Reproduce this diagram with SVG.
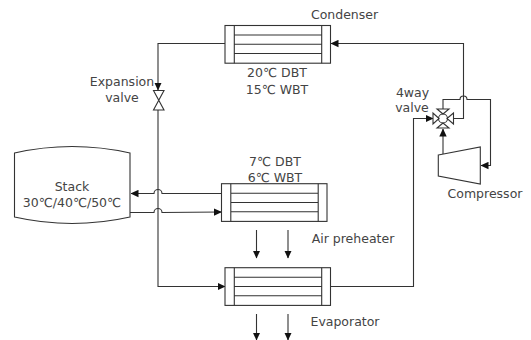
<svg xmlns="http://www.w3.org/2000/svg" width="531" height="340" viewBox="0 0 531 340">
<style>
text{font-family:"DejaVu Sans","Noto Sans",sans-serif;font-size:12.5px;fill:#444;text-anchor:middle}
.s{fill:none;stroke:#333;stroke-width:1.1}
.b{fill:#fff;stroke:#333;stroke-width:1.1}
.h{fill:none;stroke:#333;stroke-width:1.1}
</style>
<defs>
<marker id="a" viewBox="0 0 8 8" refX="7.500" refY="4" markerWidth="8" markerHeight="8" markerUnits="userSpaceOnUse" orient="auto"><path d="M0 0.300L8 4L0 7.700Z" fill="#111"/></marker>
<g id="hx"><rect class="b" x="0" y="0" width="105.500" height="37.700"/><path class="h" d="M9.300 0V37.700M96.700 0V37.700M9.300 9.500H96.700M9.300 18.800H96.700M9.300 28H96.700"/></g>
</defs>
<g id="connectors">
<path class="s" d="M225 43.500H158V90" marker-end="url(#a)"/>
<path class="s" d="M158 110V286.500H225" marker-end="url(#a)"/>
<path class="s" d="M221.500 193.500H162A4 4 0 0 0 154 193.500H131" marker-end="url(#a)"/>
<path class="s" d="M130 212.500H154A4 4 0 0 1 162 212.500L221.500 212" marker-end="url(#a)"/>
<path class="s" d="M330 286.500H413.500V118.500H433" marker-end="url(#a)"/>
<path class="s" d="M454 118.500H463.500V43.500H331" marker-end="url(#a)"/>
<path class="s" d="M443 109V99.500H460A3.500 3.500 0 0 1 467 99.500H490.500V165.500H481" marker-end="url(#a)"/>
<path class="s" d="M443 154V129" marker-end="url(#a)"/>
<path class="s" d="M256.500 230V258" marker-end="url(#a)"/>
<path class="s" d="M288 230V258" marker-end="url(#a)"/>
<path class="s" d="M256.500 314V340" marker-end="url(#a)"/>
<path class="s" d="M288 314V340" marker-end="url(#a)"/>
</g>
<g id="condenser"><use href="#hx" x="225" y="25.500"/><text x="344.500" y="19">Condenser</text><text x="277" y="77">20℃ DBT</text><text x="277" y="94">15℃ WBT</text></g>
<g id="expansion-valve"><path class="b" d="M153.500 90.500H164L153.500 110H164Z"/><text x="122" y="86">Expansion</text><text x="122" y="102">valve</text></g>
<g id="stack"><path class="b" d="M14.500 153Q72 140 130 153V217Q72 230 14.500 217Z"/><text x="72" y="191">Stack</text><text x="72" y="207">30℃/40℃/50℃</text></g>
<g id="air-preheater"><use href="#hx" x="221.500" y="183.700"/><text x="275" y="166">7℃ DBT</text><text x="275" y="181.500">6℃ WBT</text><text x="353" y="243">Air preheater</text></g>
<g id="evaporator"><use href="#hx" x="225" y="267.700"/><text x="345" y="326">Evaporator</text></g>
<g id="four-way-valve"><path class="b" d="M443 114L437 109H449ZM443 123L437 128H449ZM439 118.500L433 113V124ZM447 118.500L453.500 113V124Z"/><circle class="s" cx="443" cy="118.500" r="4.500"/><text x="412.500" y="97">4way</text><text x="412" y="112">valve</text></g>
<g id="compressor"><path class="b" d="M438.300 155L480.300 147V184L438.300 176Z"/><text x="485" y="198">Compressor</text></g>
</svg>
